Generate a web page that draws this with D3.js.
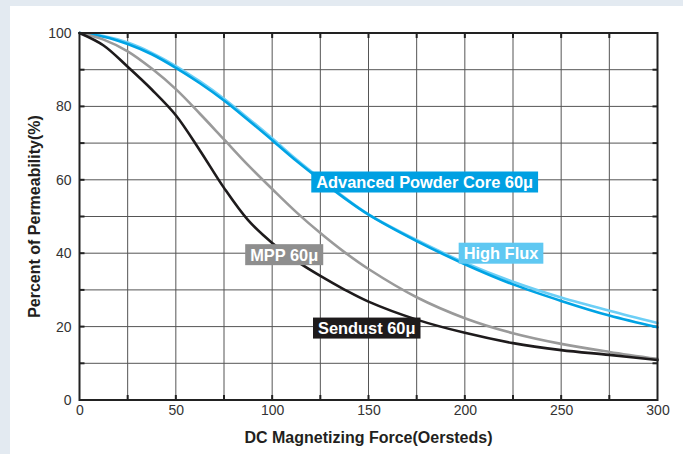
<!DOCTYPE html>
<html>
<head>
<meta charset="utf-8">
<script src="https://cdn.jsdelivr.net/npm/d3@7"></script>
<style>
  html, body { margin: 0; padding: 0; background: #e3eaf1; }
  svg { display: block; }
</style>
</head>
<body>
<svg id="chart" width="683" height="454"></svg>
<script>
// DC bias curves: percent of initial permeability vs. magnetizing force (Oe)
const force = [0, 12.5, 25, 37.5, 50, 62.5, 75, 87.5, 100, 112.5, 125, 137.5, 150, 175, 200, 225, 250, 275, 300];

const advancedPowderCore = [100, 99, 97, 94.2, 90.5, 86.3, 81.6, 76.3, 70.8, 65.2, 60, 55, 50.5, 43.3, 37, 31.5, 27, 23, 19.8];
const highFlux           = [100, 99.2, 97.4, 94.6, 91, 86.8, 82.1, 76.8, 71.3, 65.6, 60.3, 55.2, 50.6, 43.6, 37.4, 32.2, 27.9, 24.3, 21];
const mpp                = [100, 98.2, 95, 90.3, 84.7, 78, 71, 64, 57.5, 51.2, 45.5, 40.3, 35.7, 28, 22.3, 18.2, 15.3, 13.1, 11.2];
const sendust            = [100, 96.6, 90.8, 84.6, 77.6, 68, 57.8, 49, 42.8, 37.9, 33.8, 30.1, 26.8, 21.9, 18.3, 15.5, 13.6, 12.3, 10.9];

const xTickValues = [0, 50, 100, 150, 200, 250, 300];
const yTickValues = [0, 20, 40, 60, 80, 100];
const xGridValues = d3.range(0, 301, 25);
const yGridValues = d3.range(0, 101, 10);

const seriesNames  = ["High Flux", "Advanced Powder Core 60μ", "MPP 60μ", "Sendust 60μ"];
const seriesValues = [highFlux, advancedPowderCore, mpp, sendust];
const seriesColors = ["#6dcff6", "#00a3e4", "#9a9a9a", "#1e1b1c"];
// label anchors in data units: [left x, centre y]
const labelAnchors = [[196.8, 40], [120.3, 59.4], [86, 39.6], [121.2, 19.6]];
const labelFills   = ["#5fc8f2", "#00a0e2", "#8e8e8e", "#1e1b1c"];

const svg = d3.select("#chart");
const W = 683, H = 454;

// white card over the tinted page
svg.append("rect").attr("x", 10).attr("y", 6).attr("width", W - 10).attr("height", H - 6).attr("fill", "#ffffff");

const x = d3.scaleLinear().domain([0, 300]).range([79.5, 657.5]);
const y = d3.scaleLinear().domain([0, 100]).range([400, 33]);

const plot = svg.append("g");

// grid
plot.append("g").selectAll("line").data(xGridValues.slice(1, -1)).join("line")
  .attr("x1", d => x(d)).attr("x2", d => x(d))
  .attr("y1", y(100)).attr("y2", y(0))
  .attr("stroke", "#555").attr("stroke-width", 1);
plot.append("g").selectAll("line").data(yGridValues.slice(1, -1)).join("line")
  .attr("y1", d => y(d)).attr("y2", d => y(d))
  .attr("x1", x(0)).attr("x2", x(300))
  .attr("stroke", "#555").attr("stroke-width", 1);

// inner tick marks on all four sides
const tickLen = 5;
const ticks = plot.append("g").attr("stroke", "#222").attr("stroke-width", 2);
xGridValues.slice(1, -1).forEach(v => {
  ticks.append("line").attr("x1", x(v)).attr("x2", x(v)).attr("y1", y(100)).attr("y2", y(100) + tickLen);
  ticks.append("line").attr("x1", x(v)).attr("x2", x(v)).attr("y1", y(0)).attr("y2", y(0) - tickLen);
});
yGridValues.slice(1, -1).forEach(v => {
  ticks.append("line").attr("y1", y(v)).attr("y2", y(v)).attr("x1", x(0)).attr("x2", x(0) + tickLen);
  ticks.append("line").attr("y1", y(v)).attr("y2", y(v)).attr("x1", x(300)).attr("x2", x(300) - tickLen);
});

// curves
const line = d3.line().curve(d3.curveCatmullRom.alpha(0.5));
seriesValues.forEach((vals, i) => {
  plot.append("path")
    .datum(force.map((f, j) => [x(f), y(vals[j])]))
    .attr("d", line)
    .attr("fill", "none")
    .attr("stroke", seriesColors[i])
    .attr("stroke-width", 2.6)
    .attr("stroke-linecap", "round");
});

// frame
plot.append("rect")
  .attr("x", x(0)).attr("y", y(100))
  .attr("width", x(300) - x(0)).attr("height", y(0) - y(100))
  .attr("fill", "none").attr("stroke", "#222").attr("stroke-width", 2);

// axes (labels only; frame and ticks drawn above)
const font = "'Liberation Sans', Arial, Helvetica, sans-serif";
const xAxis = svg.append("g").attr("transform", `translate(0,${y(0)})`)
  .call(d3.axisBottom(x).tickValues(xTickValues).tickSize(0).tickPadding(5));
const yAxis = svg.append("g").attr("transform", `translate(${x(0)},0)`)
  .call(d3.axisLeft(y).tickValues(yTickValues).tickSize(0).tickPadding(8));
[xAxis, yAxis].forEach(a => {
  a.select(".domain").remove();
  a.selectAll("text").attr("font-family", font).attr("font-size", 14).attr("fill", "#333");
});

// axis titles
svg.append("text")
  .attr("x", (x(0) + x(300)) / 2).attr("y", 443)
  .attr("text-anchor", "middle")
  .attr("font-family", font).attr("font-size", 16).attr("font-weight", "bold").attr("fill", "#231f20")
  .text("DC Magnetizing Force(Oersteds)");
svg.append("text")
  .attr("transform", `translate(40,${(y(0) + y(100)) / 2}) rotate(-90)`)
  .attr("text-anchor", "middle")
  .attr("font-family", font).attr("font-size", 16).attr("font-weight", "bold").attr("fill", "#231f20")
  .text("Percent of Permeability(%)");

// series labels
seriesNames.forEach((name, i) => {
  const [lx, ly] = labelAnchors[i];
  const g = svg.append("g");
  const rect = g.append("rect").attr("fill", labelFills[i]);
  const t = g.append("text")
    .attr("x", x(lx) + 5).attr("y", y(ly))
    .attr("dy", "0.36em")
    .attr("font-family", font).attr("font-size", 16.4).attr("font-weight", "bold")
    .attr("fill", "#ffffff")
    .text(name);
  const w = t.node().getComputedTextLength();
  rect.attr("x", x(lx)).attr("y", y(ly) - 10.5).attr("width", w + 10).attr("height", 21);
});
</script>
</body>
</html>
